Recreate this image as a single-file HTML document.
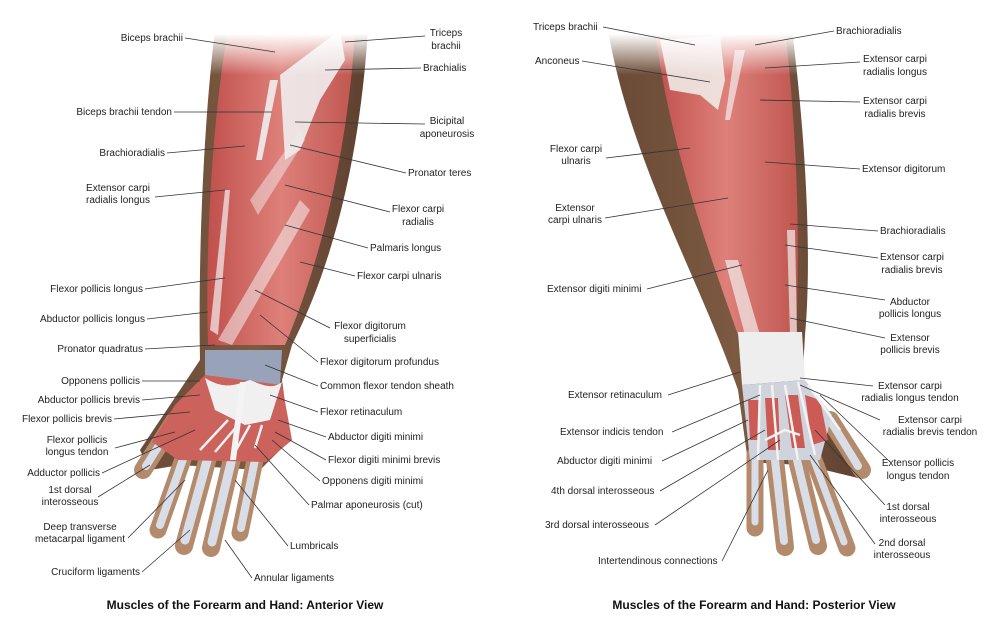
<!DOCTYPE html>
<html><head><meta charset="utf-8"><style>
html,body{margin:0;padding:0;background:#fff;width:1000px;height:627px;overflow:hidden}
svg{display:block}
text{font-family:"Liberation Sans",sans-serif;font-size:10px;fill:#222}
.c{text-anchor:middle}.e{text-anchor:end}
.cap{font-size:12px;font-weight:bold;fill:#111}
line{stroke:#333;stroke-width:0.8}
.f{stroke:#b48a6c;stroke-linecap:round}
.b{stroke:#d8dde6;stroke-linecap:round}
.t{stroke:#f2f2f2;stroke-width:2.5;fill:none}
</style></head><body>
<svg width="1000" height="627" viewBox="0 0 1000 627">
<defs>
<linearGradient id="sk" x1="0" x2="1"><stop offset="0" stop-color="#6a4a36"/><stop offset="0.5" stop-color="#7c5a42"/><stop offset="1" stop-color="#5e4030"/></linearGradient>
<linearGradient id="mu" x1="0" x2="1"><stop offset="0" stop-color="#c0504c"/><stop offset="0.5" stop-color="#de807a"/><stop offset="1" stop-color="#c05650"/></linearGradient>
<linearGradient id="fade" x1="0" y1="0" x2="0" y2="1"><stop offset="0" stop-color="#fff" stop-opacity="1"/><stop offset="0.45" stop-color="#fff" stop-opacity="1"/><stop offset="1" stop-color="#fff" stop-opacity="0"/></linearGradient>
</defs>
<!-- LEFT ARM -->
<path d="M215,30 L368,30 C362,120 345,240 292,345 L282,380 L290,440 L260,470 L180,465 L150,470 L140,450 L170,405 L200,360 C198,250 204,120 215,30Z" fill="url(#sk)"/>
<g>
<line class="f" x1="258" y1="445" x2="240" y2="533" style="stroke-width:17"/>
<line class="f" x1="234" y1="450" x2="211" y2="548" style="stroke-width:18"/>
<line class="f" x1="210" y1="450" x2="184" y2="546" style="stroke-width:18"/>
<line class="f" x1="188" y1="445" x2="158" y2="530" style="stroke-width:17"/>
<line class="f" x1="175" y1="420" x2="143" y2="470" style="stroke-width:18"/>
<line class="b" x1="258" y1="445" x2="241" y2="528" style="stroke-width:8"/>
<line class="b" x1="234" y1="450" x2="212" y2="542" style="stroke-width:9"/>
<line class="b" x1="210" y1="450" x2="185" y2="540" style="stroke-width:9"/>
<line class="b" x1="188" y1="445" x2="160" y2="525" style="stroke-width:8"/>
<line class="b" x1="175" y1="420" x2="146" y2="466" style="stroke-width:8"/>
</g>
<path d="M228,30 L355,30 C350,120 330,240 285,345 L208,345 C205,250 212,120 228,30Z" fill="url(#mu)"/>
<path d="M280,75 L300,60 L340,30 L345,60 L320,100 L300,150 L285,160Z" fill="#f0eeee" opacity="0.9"/>
<path d="M270,80 L278,80 L262,160 L256,160Z" fill="#f0eeee" opacity="0.9"/>
<path d="M250,200 L300,130 L305,140 L258,215Z" fill="#f2eaea" opacity="0.5"/>
<path d="M218,340 L300,200 L310,210 L232,345Z" fill="#f4efef" opacity="0.55"/>
<path d="M210,330 L225,190 L230,190 L218,335Z" fill="#f4efef" opacity="0.7"/>
<path d="M205,350 L282,350 L280,385 L260,400 L235,395 L205,380Z" fill="#98a2b8"/>
<path d="M152,442 L175,405 L205,375 L282,385 L292,440 L266,462 L178,460Z" fill="#cc625c"/>
<path d="M205,378 C225,390 235,385 250,380 C262,385 272,390 282,382 L270,420 L245,425 L215,410Z" fill="#f0f0f0"/>
<path d="M240,382 L246,382 L236,460 L230,460Z" fill="#f4f4f4"/>
<g class="t"><path d="M228,420 L200,450"/><path d="M238,425 L215,452"/><path d="M250,425 L235,452"/><path d="M262,425 L255,448"/></g>
<!-- RIGHT ARM -->
<path d="M608,30 L792,30 C806,140 812,260 805,335 L802,390 L830,420 L868,465 L858,478 L825,470 L800,465 L748,462 L738,390 C700,280 630,160 608,30Z" fill="url(#sk)"/>
<g>
<line class="f" x1="755" y1="455" x2="755" y2="528" style="stroke-width:17"/>
<line class="f" x1="775" y1="460" x2="785" y2="547" style="stroke-width:18"/>
<line class="f" x1="797" y1="460" x2="818" y2="546" style="stroke-width:18"/>
<line class="f" x1="812" y1="455" x2="847" y2="548" style="stroke-width:17"/>
<line class="f" x1="830" y1="420" x2="862" y2="470" style="stroke-width:18"/>
<line class="b" x1="755" y1="455" x2="755" y2="522" style="stroke-width:7"/>
<line class="b" x1="775" y1="460" x2="784" y2="541" style="stroke-width:8"/>
<line class="b" x1="797" y1="460" x2="816" y2="540" style="stroke-width:8"/>
<line class="b" x1="812" y1="455" x2="844" y2="542" style="stroke-width:7"/>
<line class="b" x1="830" y1="420" x2="858" y2="466" style="stroke-width:8"/>
</g>
<path d="M655,30 L785,30 C798,140 800,250 796,335 L738,335 C712,260 670,150 655,30Z" fill="url(#mu)"/>
<path d="M660,40 L720,35 L725,80 L718,110 L700,95 L670,90Z" fill="#efeae6" opacity="0.9"/>
<path d="M735,50 L745,50 L730,120 L725,120Z" fill="#f2eeee" opacity="0.7"/>
<path d="M725,260 L738,260 L760,335 L745,335Z" fill="#f2eeee" opacity="0.7"/>
<path d="M787,230 L795,230 L797,335 L790,335Z" fill="#f2eeee" opacity="0.7"/>
<path d="M738,332 L802,332 L805,380 L742,385Z" fill="#eeeeee"/>
<path d="M742,385 L805,380 L832,415 L820,460 L750,460Z" fill="#cfd3dc"/>
<g fill="#cc5a55"><path d="M748,400 L760,400 L758,440 L750,440Z"/><path d="M765,398 L778,398 L780,450 L768,450Z"/><path d="M785,395 L798,395 L805,448 L792,448Z"/><path d="M805,395 L820,400 L828,440 L812,445Z"/></g>
<g class="t"><path d="M760,385 L758,460"/><path d="M772,385 L778,460"/><path d="M785,385 L798,460"/><path d="M798,382 L815,455"/><path d="M808,385 L840,430"/><path d="M765,440 L785,430 L800,435"/></g>
<!-- top fade -->
<rect x="180" y="0" width="220" height="75" fill="url(#fade)"/>
<rect x="590" y="0" width="230" height="75" fill="url(#fade)"/>
<!-- LEFT LABELS -->
<g>
<text class="e" x="183" y="41">Biceps brachii</text><line x1="185" y1="38" x2="275" y2="52"/>
<text class="e" x="172" y="115">Biceps brachii tendon</text><line x1="174" y1="112" x2="272" y2="112"/>
<text class="e" x="165" y="156">Brachioradialis</text><line x1="167" y1="153" x2="245" y2="146"/>
<text class="c" x="118" y="191">Extensor carpi</text><text class="c" x="118" y="203">radialis longus</text><line x1="155" y1="197" x2="225" y2="190"/>
<text class="e" x="143" y="292">Flexor pollicis longus</text><line x1="145" y1="289" x2="225" y2="278"/>
<text class="e" x="145" y="322">Abductor pollicis longus</text><line x1="147" y1="319" x2="208" y2="312"/>
<text class="e" x="143" y="352">Pronator quadratus</text><line x1="145" y1="349" x2="215" y2="345"/>
<text class="e" x="140" y="384">Opponens pollicis</text><line x1="142" y1="381" x2="200" y2="381"/>
<text class="e" x="140" y="403">Abductor pollicis brevis</text><line x1="142" y1="400" x2="200" y2="395"/>
<text class="e" x="112" y="422">Flexor pollicis brevis</text><line x1="114" y1="419" x2="190" y2="412"/>
<text class="c" x="77" y="443">Flexor pollicis</text><text class="c" x="77" y="455">longus tendon</text><line x1="115" y1="448" x2="175" y2="432"/>
<text class="e" x="100" y="476">Adductor pollicis</text><line x1="102" y1="473" x2="195" y2="430"/>
<text class="c" x="70" y="493">1st dorsal</text><text class="c" x="70" y="505">interosseous</text><line x1="98" y1="497" x2="150" y2="465"/>
<text class="c" x="80" y="530">Deep transverse</text><text class="c" x="80" y="542">metacarpal ligament</text><line x1="128" y1="538" x2="185" y2="480"/>
<text class="e" x="140" y="575">Cruciform ligaments</text><line x1="142" y1="572" x2="190" y2="530"/>
<text class="c" x="446" y="36">Triceps</text><text class="c" x="446" y="49">brachii</text><line x1="425" y1="36" x2="345" y2="42"/>
<text x="423" y="71">Brachialis</text><line x1="421" y1="68" x2="325" y2="70"/>
<text class="c" x="447" y="124">Bicipital</text><text class="c" x="447" y="137">aponeurosis</text><line x1="425" y1="124" x2="295" y2="122"/>
<text x="408" y="176">Pronator teres</text><line x1="406" y1="173" x2="290" y2="145"/>
<text class="c" x="418" y="212">Flexor carpi</text><text class="c" x="418" y="225">radialis</text><line x1="390" y1="212" x2="285" y2="185"/>
<text x="370" y="251">Palmaris longus</text><line x1="368" y1="248" x2="285" y2="225"/>
<text x="357" y="279">Flexor carpi ulnaris</text><line x1="355" y1="276" x2="300" y2="262"/>
<text class="c" x="370" y="329">Flexor digitorum</text><text class="c" x="370" y="342">superficialis</text><line x1="330" y1="328" x2="255" y2="290"/>
<text x="320" y="365">Flexor digitorum profundus</text><line x1="318" y1="362" x2="260" y2="315"/>
<text x="320" y="389">Common flexor tendon sheath</text><line x1="318" y1="386" x2="265" y2="365"/>
<text x="320" y="415">Flexor retinaculum</text><line x1="318" y1="412" x2="270" y2="395"/>
<text x="328" y="440">Abductor digiti minimi</text><line x1="326" y1="437" x2="278" y2="420"/>
<text x="328" y="463">Flexor digiti minimi brevis</text><line x1="326" y1="460" x2="275" y2="432"/>
<text x="322" y="484">Opponens digiti minimi</text><line x1="320" y1="481" x2="272" y2="440"/>
<text x="311" y="508">Palmar aponeurosis (cut)</text><line x1="309" y1="505" x2="255" y2="445"/>
<text x="290" y="549">Lumbricals</text><line x1="288" y1="546" x2="235" y2="480"/>
<text x="254" y="581">Annular ligaments</text><line x1="252" y1="578" x2="225" y2="540"/>
<text class="c cap" x="245" y="609">Muscles of the Forearm and Hand: Anterior View</text>
</g>
<!-- RIGHT LABELS -->
<g>
<text x="533" y="30">Triceps brachii</text><line x1="603" y1="27" x2="695" y2="45"/>
<text x="535" y="64">Anconeus</text><line x1="582" y1="61" x2="710" y2="82"/>
<text class="c" x="576" y="152">Flexor carpi</text><text class="c" x="576" y="164">ulnaris</text><line x1="606" y1="158" x2="690" y2="148"/>
<text class="c" x="575" y="211">Extensor</text><text class="c" x="575" y="223">carpi ulnaris</text><line x1="605" y1="218" x2="728" y2="198"/>
<text x="547" y="292">Extensor digiti minimi</text><line x1="647" y1="289" x2="742" y2="265"/>
<text x="568" y="398">Extensor retinaculum</text><line x1="668" y1="395" x2="740" y2="372"/>
<text x="560" y="435">Extensor indicis tendon</text><line x1="672" y1="432" x2="760" y2="395"/>
<text x="557" y="464">Abductor digiti minimi</text><line x1="662" y1="461" x2="748" y2="420"/>
<text x="551" y="494">4th dorsal interosseous</text><line x1="660" y1="491" x2="765" y2="430"/>
<text x="545" y="528">3rd dorsal interosseous</text><line x1="655" y1="525" x2="780" y2="440"/>
<text x="598" y="564">Intertendinous connections</text><line x1="722" y1="561" x2="768" y2="470"/>
<text x="836" y="34">Brachioradialis</text><line x1="834" y1="31" x2="755" y2="45"/>
<text class="c" x="895" y="62">Extensor carpi</text><text class="c" x="895" y="75">radialis longus</text><line x1="860" y1="62" x2="765" y2="68"/>
<text class="c" x="895" y="104">Extensor carpi</text><text class="c" x="895" y="117">radialis brevis</text><line x1="860" y1="102" x2="760" y2="100"/>
<text x="862" y="172">Extensor digitorum</text><line x1="860" y1="169" x2="765" y2="162"/>
<text x="880" y="234">Brachioradialis</text><line x1="878" y1="231" x2="790" y2="224"/>
<text class="c" x="912" y="260">Extensor carpi</text><text class="c" x="912" y="273">radialis brevis</text><line x1="878" y1="258" x2="785" y2="245"/>
<text class="c" x="910" y="305">Abductor</text><text class="c" x="910" y="317">pollicis longus</text><line x1="885" y1="300" x2="785" y2="285"/>
<text class="c" x="910" y="341">Extensor</text><text class="c" x="910" y="353">pollicis brevis</text><line x1="885" y1="338" x2="790" y2="318"/>
<text class="c" x="910" y="389">Extensor carpi</text><text class="c" x="910" y="401">radialis longus tendon</text><line x1="873" y1="386" x2="800" y2="378"/>
<text class="c" x="930" y="423">Extensor carpi</text><text class="c" x="930" y="435">radialis brevis tendon</text><line x1="880" y1="420" x2="800" y2="385"/>
<text class="c" x="918" y="466">Extensor pollicis</text><text class="c" x="918" y="479">longus tendon</text><line x1="890" y1="462" x2="820" y2="395"/>
<text class="c" x="908" y="510">1st dorsal</text><text class="c" x="908" y="522">interosseous</text><line x1="885" y1="505" x2="815" y2="430"/>
<text class="c" x="902" y="546">2nd dorsal</text><text class="c" x="902" y="558">interosseous</text><line x1="875" y1="544" x2="810" y2="455"/>
<text class="c cap" x="754" y="609">Muscles of the Forearm and Hand: Posterior View</text>
</g>
</svg>
</body></html>
